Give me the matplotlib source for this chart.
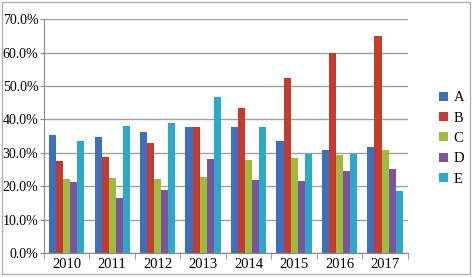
import numpy as np
import matplotlib.pyplot as plt
from matplotlib.patches import Rectangle

years = ['2010', '2011', '2012', '2013', '2014', '2015', '2016', '2017']
series_names = ['A', 'B', 'C', 'D', 'E']
A = [35.2, 34.8, 36.2, 37.8, 37.6, 33.4, 30.7, 31.7]
B = [27.6, 28.6, 32.8, 37.8, 43.5, 52.3, 59.8, 65.0]
C = [22.1, 22.5, 22.1, 22.7, 27.7, 28.4, 29.2, 30.9]
D = [21.2, 16.4, 18.9, 28.2, 21.9, 21.5, 24.6, 25.2]
E = [33.4, 37.9, 39.0, 46.6, 37.8, 29.7, 29.5, 18.7]
colors = ['#3d6fbd', '#c53b30', '#9bbd3b', '#7b559f', '#2aa9c9']

plt.rcParams['font.family'] = ['Liberation Serif', 'DejaVu Serif']
fig = plt.figure(figsize=(4.72, 2.77), dpi=100)
ax = fig.add_axes([0.093, 0.087, 0.771, 0.843])

# light frame round the whole chart
fig.patches.append(Rectangle((0.004, 0.012), 0.992, 0.98, transform=fig.transFigure,
                             fill=False, edgecolor='#b0b0b0', linewidth=1))

x = np.arange(len(years))
w = 0.155
data = [A, B, C, D, E]
for i in range(len(data)):
    ax.bar(x + (i - 2) * w, data[i], w, color=colors[i], label=series_names[i], zorder=3)

ax.set_xlim(-0.5, len(years) - 0.5)
ax.set_ylim(0, 70)
ax.set_yticks(np.arange(0, 71, 10))
ax.set_yticklabels([f'{v:.1f}%' for v in np.arange(0, 71, 10)])
ax.set_xticks(x)
ax.set_xticklabels(years)
ax.set_xticks(np.arange(-0.5, len(years), 1), minor=True)
ax.tick_params(axis='x', which='major', length=0, labelsize=10.5, pad=4)
ax.tick_params(axis='x', which='minor', length=4, color='#888888')
ax.tick_params(axis='y', length=3, color='#888888', labelsize=10, pad=1)
ax.grid(axis='y', color='#a0a0a0', linewidth=1, zorder=0)
for s in ['top', 'right']:
    ax.spines[s].set_visible(False)
for s in ['left', 'bottom']:
    ax.spines[s].set_color('#888888')

ax.legend(loc='center left', bbox_to_anchor=(1.05, 0.49), frameon=False, fontsize=10.5,
          handlelength=0.6, handleheight=0.6, handletextpad=0.4, labelspacing=0.5)

fig.savefig('out.png', dpi=100)
